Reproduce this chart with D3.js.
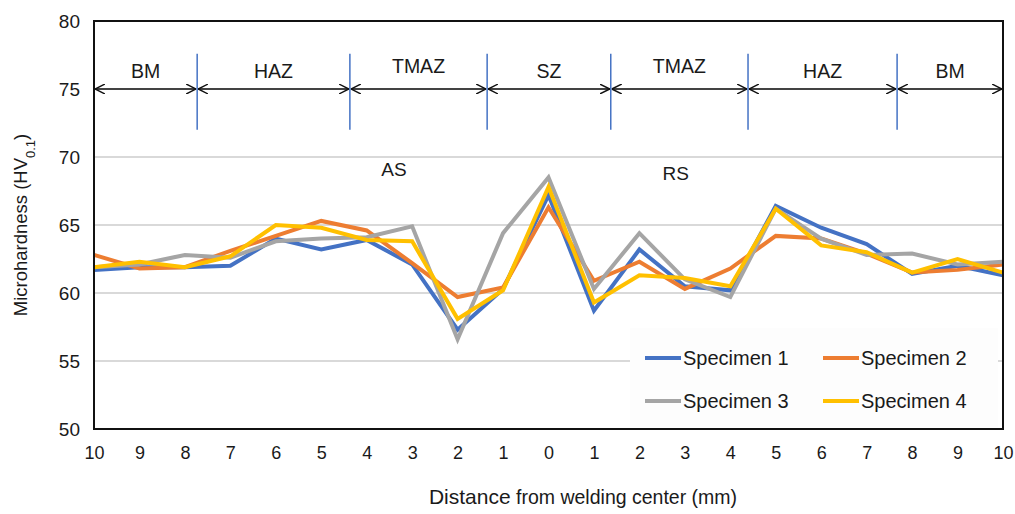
<!DOCTYPE html>
<html>
<head>
<meta charset="utf-8">
<script src="https://cdn.jsdelivr.net/npm/d3@7"></script>
<style>
  body { margin: 0; background: #fff; }
  text { font-family: "Liberation Sans", Arial, sans-serif; fill: #1a1a1a; }
</style>
</head>
<body>
<div id="chart"></div>
<script>
// tick labels along the x axis (distance from welding centre, mm)
const distanceLabels = ["10", "9", "8", "7", "6", "5", "4", "3", "2", "1", "0",
  "1", "2", "3", "4", "5", "6", "7", "8", "9", "10"];

const seriesNames = ["Specimen 1", "Specimen 2", "Specimen 3", "Specimen 4"];
const specimen1 = [61.7, 61.9, 61.9, 62.0, 64.0, 63.2, 63.9, 62.1, 57.3, 60.3, 67.2,
  58.7, 63.2, 60.5, 60.2, 66.4, 64.8, 63.6, 61.4, 62.0, 61.3];
const specimen2 = [62.8, 61.8, 61.9, 63.1, 64.2, 65.3, 64.6, 62.2, 59.7, 60.4, 66.3,
  60.9, 62.3, 60.3, 61.8, 64.2, 64.0, 62.9, 61.5, 61.7, 62.1];
const specimen3 = [61.9, 62.1, 62.8, 62.6, 63.8, 64.0, 64.1, 64.9, 56.6, 64.4, 68.5,
  60.3, 64.4, 61.0, 59.7, 66.2, 64.0, 62.8, 62.9, 62.1, 62.3];
const specimen4 = [61.9, 62.3, 61.9, 62.7, 65.0, 64.8, 63.9, 63.8, 58.1, 60.2, 67.8,
  59.3, 61.3, 61.1, 60.5, 66.2, 63.5, 63.0, 61.5, 62.5, 61.5];
const colors = ["#4472C4", "#ED7D31", "#A5A5A5", "#FFC000"];

const yTicks = [50, 55, 60, 65, 70, 75, 80];

// weld zones (boundaries in point-index units along the x axis)
const zoneNames = ["BM", "HAZ", "TMAZ", "SZ", "TMAZ", "HAZ", "BM"];
const zoneBounds = [0, 2.27, 5.63, 8.65, 11.37, 14.39, 17.67, 20];
const sideNames = ["AS", "RS"];
const sidePos = [6.6, 12.8];

const W = 1015, H = 514;
const margin = { top: 21, right: 12, bottom: 85, left: 94 };

const svg = d3.select("#chart").append("svg")
  .attr("width", W)
  .attr("height", H);

const x = d3.scaleLinear()
  .domain([0, distanceLabels.length - 1])
  .range([margin.left, W - margin.right]);
const y = d3.scaleLinear()
  .domain([50, 80])
  .range([H - margin.bottom, margin.top]);

// gridlines
svg.append("g")
  .selectAll("line")
  .data(yTicks.slice(1, -1))
  .join("line")
  .attr("x1", x(0)).attr("x2", x(20))
  .attr("y1", d => y(d)).attr("y2", d => y(d))
  .attr("stroke", "#d9d9d9")
  .attr("stroke-width", 2);

// y axis labels
const yAxis = svg.append("g")
  .attr("transform", `translate(${margin.left},0)`)
  .call(d3.axisLeft(y).tickValues(yTicks).tickSize(0).tickPadding(14));
yAxis.select(".domain").remove();
yAxis.selectAll("text")
  .style("font-size", "19px")
  .attr("font-family", null);

// x axis labels
const xAxis = svg.append("g")
  .attr("transform", `translate(0,${y(50)})`)
  .call(d3.axisBottom(x).tickValues(d3.range(distanceLabels.length))
    .tickFormat(i => distanceLabels[i]).tickSize(0).tickPadding(17));
xAxis.select(".domain").remove();
xAxis.selectAll("text")
  .style("font-size", "18px")
  .attr("font-family", null);

// axis titles
svg.append("text")
  .attr("x", 583)
  .attr("y", 504)
  .attr("text-anchor", "middle")
  .style("font-size", "19.5px")
  .call(t => {
    t.append("tspan").style("font-size", "21px").text("Distance");
    t.append("tspan").text(" from welding center (mm)");
  });

svg.append("text")
  .attr("transform", `translate(27,${(y(50) + y(80)) / 2}) rotate(-90)`)
  .attr("text-anchor", "middle")
  .style("font-size", "18.5px")
  .call(t => {
    t.append("tspan").text("Microhardness (HV");
    t.append("tspan").attr("baseline-shift", "sub").style("font-size", "13px").text("0.1");
    t.append("tspan").text(")");
  });

// zone annotation: arrows and separators
const defs = svg.append("defs");
defs.append("marker")
  .attr("id", "arrow-end")
  .attr("viewBox", "0 0 10 10")
  .attr("refX", 10).attr("refY", 5)
  .attr("markerWidth", 10).attr("markerHeight", 10)
  .attr("markerUnits", "userSpaceOnUse")
  .attr("orient", "auto")
  .append("path")
  .attr("d", "M 0 0 L 10 5 L 0 10")
  .attr("fill", "none")
  .attr("stroke", "#111")
  .attr("stroke-width", 1.4);
defs.append("marker")
  .attr("id", "arrow-start")
  .attr("viewBox", "0 0 10 10")
  .attr("refX", 0).attr("refY", 5)
  .attr("markerWidth", 10).attr("markerHeight", 10)
  .attr("markerUnits", "userSpaceOnUse")
  .attr("orient", "auto")
  .append("path")
  .attr("d", "M 10 0 L 0 5 L 10 10")
  .attr("fill", "none")
  .attr("stroke", "#111")
  .attr("stroke-width", 1.4);

const zones = zoneNames.map((name, i) => ({ name, a: zoneBounds[i], b: zoneBounds[i + 1] }));

svg.append("g")
  .selectAll("line")
  .data(zones)
  .join("line")
  .attr("x1", d => x(d.a) + 1).attr("x2", d => x(d.b) - 1)
  .attr("y1", y(75)).attr("y2", y(75))
  .attr("stroke", "#111")
  .attr("stroke-width", 1.6)
  .attr("marker-start", "url(#arrow-start)")
  .attr("marker-end", "url(#arrow-end)");

svg.append("g")
  .selectAll("line")
  .data(zoneBounds.slice(1, -1))
  .join("line")
  .attr("x1", d => x(d)).attr("x2", d => x(d))
  .attr("y1", y(77.6)).attr("y2", y(72))
  .attr("stroke", "#4472C4")
  .attr("stroke-width", 1.5);

svg.append("g")
  .selectAll("text")
  .data(zones)
  .join("text")
  .attr("x", d => x((d.a + d.b) / 2))
  .attr("y", d => d.name === "TMAZ" ? y(76.2) : y(75.8))
  .attr("text-anchor", "middle")
  .style("font-size", "19.5px")
  .text(d => d.name);

svg.append("g")
  .selectAll("text")
  .data(sideNames)
  .join("text")
  .attr("x", (d, i) => x(sidePos[i]))
  .attr("y", (d, i) => y(i === 0 ? 68.6 : 68.3))
  .attr("text-anchor", "middle")
  .style("font-size", "19px")
  .text(d => d);

// data lines
const series = [specimen1, specimen2, specimen3, specimen4];
const line = d3.line()
  .x((d, i) => x(i))
  .y(d => y(d));

svg.append("g")
  .selectAll("path")
  .data(series)
  .join("path")
  .attr("d", line)
  .attr("fill", "none")
  .attr("stroke", (d, i) => colors[i])
  .attr("stroke-width", 4)
  .attr("stroke-linejoin", "miter");

// legend
const legend = svg.append("g").attr("transform", "translate(630,328)");
legend.append("rect")
  .attr("width", 368).attr("height", 99)
  .attr("fill", "#fdfdfd");
const item = legend.selectAll("g")
  .data(seriesNames)
  .join("g")
  .attr("transform", (d, i) => `translate(${15 + (i % 2) * 178},${30 + Math.floor(i / 2) * 43})`);
item.append("line")
  .attr("x1", 0).attr("x2", 36)
  .attr("stroke", (d, i) => colors[i])
  .attr("stroke-width", 4);
item.append("text")
  .attr("x", 38)
  .attr("dy", "0.35em")
  .style("font-size", "20px")
  .text(d => d);

// plot frame
svg.append("rect")
  .attr("x", x(0)).attr("y", y(80))
  .attr("width", x(20) - x(0))
  .attr("height", y(50) - y(80))
  .attr("fill", "none")
  .attr("stroke", "#111")
  .attr("stroke-width", 2);
</script>
</body>
</html>
